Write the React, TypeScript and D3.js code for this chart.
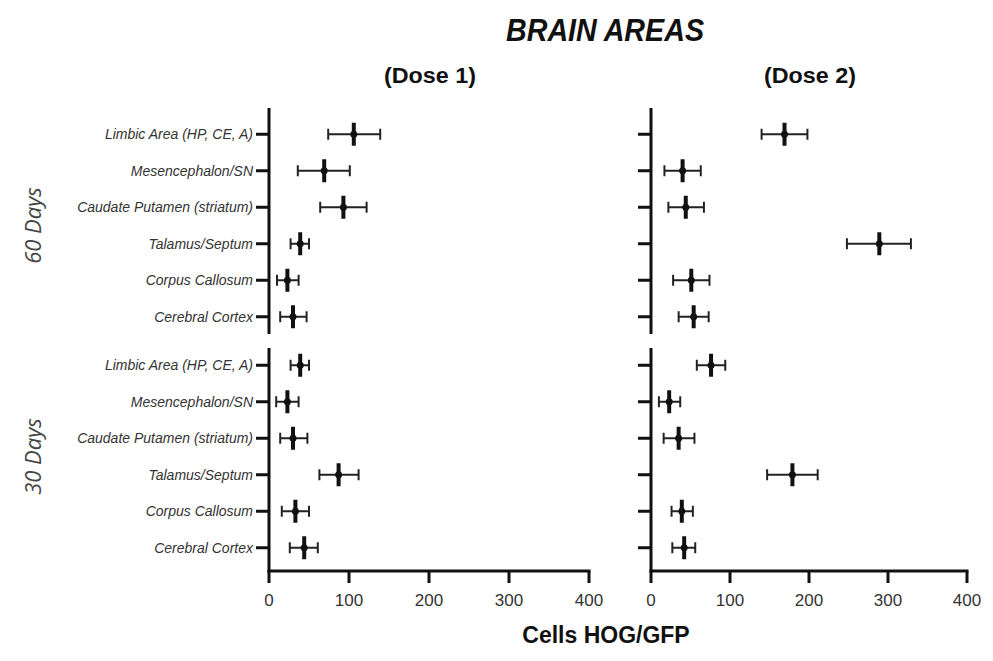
import { scaleLinear, scalePoint } from "d3";

const regions = [
  "Limbic Area (HP, CE, A)",
  "Mesencephalon/SN",
  "Caudate Putamen (striatum)",
  "Talamus/Septum",
  "Corpus Callosum",
  "Cerebral Cortex",
];

const doses = ["(Dose 1)", "(Dose 2)"];
const times = ["60 Days", "30 Days"];
const xTicks = [0, 100, 200, 300, 400];

// mean, lower, upper for each region
const dose1Days60 = [106, 69, 93, 39, 23, 30];
const dose1Days60Lo = [74, 36, 64, 27, 10, 14];
const dose1Days60Hi = [139, 101, 122, 50, 37, 47];

const dose1Days30 = [39, 23, 30, 87, 33, 44];
const dose1Days30Lo = [27, 9, 14, 63, 16, 26];
const dose1Days30Hi = [50, 37, 48, 112, 50, 61];

const dose2Days60 = [169, 40, 44, 289, 51, 54];
const dose2Days60Lo = [140, 17, 22, 248, 28, 35];
const dose2Days60Hi = [198, 63, 67, 329, 74, 73];

const dose2Days30 = [76, 23, 35, 179, 39, 42];
const dose2Days30Lo = [58, 10, 16, 147, 26, 27];
const dose2Days30Hi = [94, 37, 55, 211, 53, 56];

const panels = [
  [
    { mean: dose1Days60, lo: dose1Days60Lo, hi: dose1Days60Hi },
    { mean: dose1Days30, lo: dose1Days30Lo, hi: dose1Days30Hi },
  ],
  [
    { mean: dose2Days60, lo: dose2Days60Lo, hi: dose2Days60Hi },
    { mean: dose2Days30, lo: dose2Days30Lo, hi: dose2Days30Hi },
  ],
];

const W = 993;
const H = 661;
const colX = [
  [269, 589],
  [651, 967],
];
const rowY = [
  { axisTop: 108, axisBottom: 334, bandTop: 116, bandBottom: 335 },
  { axisTop: 348, axisBottom: 571, bandTop: 347, bandBottom: 566 },
];
const ink = "#111";

export default function App() {
  return (
    <svg width={W} height={H} style={{ display: "block", position: "absolute", left: 0, top: 0, background: "#fff" }}>
      <text
        x={605}
        y={41}
        textAnchor="middle"
        fontFamily="'Liberation Sans', Arial, sans-serif"
        fontWeight="bold"
        fontStyle="italic"
        fontSize={31}
        textLength={198}
        lengthAdjust="spacingAndGlyphs"
        fill={ink}
      >
        BRAIN AREAS
      </text>
      {doses.map((d, ci) => (
        <text
          key={d}
          x={(colX[ci][0] + colX[ci][1]) / 2 + 1}
          y={83}
          textAnchor="middle"
          fontFamily="'Liberation Sans', Arial, sans-serif"
          fontWeight="bold"
          fontSize={22}
          textLength={92}
          lengthAdjust="spacingAndGlyphs"
          fill={ink}
        >
          {d}
        </text>
      ))}
      {times.map((t, ri) => {
        const cy = (rowY[ri].bandTop + rowY[ri].bandBottom) / 2;
        return (
          <text
            key={t}
            transform={`translate(41,${cy}) rotate(-90)`}
            textAnchor="middle"
            fontFamily="'Open Sans', sans-serif"
            fontStyle="italic"
            fontSize={22}
            fill="#444"
          >
            {t}
          </text>
        );
      })}
      {colX.map((cx, ci) => {
        const x = scaleLinear().domain([0, 400]).range(cx);
        return (
          <g key={ci}>
            {rowY.map((r, ri) => {
              const y = scalePoint<string>()
                .domain(regions)
                .range([r.bandTop, r.bandBottom])
                .padding(0.5);
              const p = panels[ci][ri];
              return (
                <g key={ri}>
                  <line x1={x(0)} x2={x(0)} y1={r.axisTop} y2={r.axisBottom + (ri === 1 ? 1.5 : 0)} stroke={ink} strokeWidth={3} />
                  {regions.map((reg) => (
                    <g key={reg}>
                      <line x1={x(0) - 13} x2={x(0)} y1={y(reg)} y2={y(reg)} stroke={ink} strokeWidth={3} />
                      {ci === 0 && (
                        <text
                          x={x(0) - 16}
                          y={y(reg)! + 5}
                          textAnchor="end"
                          fontFamily="'Liberation Sans', Arial, sans-serif"
                          fontStyle="italic"
                          fontSize={14}
                          fill="#333"
                        >
                          {reg}
                        </text>
                      )}
                    </g>
                  ))}
                  {regions.map((reg, i) => {
                    const yy = y(reg)!;
                    return (
                      <g key={"e" + reg}>
                        <line x1={x(p.lo[i])} x2={x(p.hi[i])} y1={yy} y2={yy} stroke="#222" strokeWidth={2} />
                        <line x1={x(p.lo[i])} x2={x(p.lo[i])} y1={yy - 5.5} y2={yy + 5.5} stroke="#222" strokeWidth={2} />
                        <line x1={x(p.hi[i])} x2={x(p.hi[i])} y1={yy - 5.5} y2={yy + 5.5} stroke="#222" strokeWidth={2} />
                        <line x1={x(p.mean[i])} x2={x(p.mean[i])} y1={yy - 11.5} y2={yy + 11.5} stroke={ink} strokeWidth={4} />
                        <circle cx={x(p.mean[i])} cy={yy} r={3.5} fill={ink} />
                      </g>
                    );
                  })}
                  {ri === 1 && (
                    <g>
                      <line x1={x(0) - 1.5} x2={x(400) + 1.5} y1={r.axisBottom} y2={r.axisBottom} stroke={ink} strokeWidth={3} />
                      {xTicks.map((t) => (
                        <g key={t}>
                          <line x1={x(t)} x2={x(t)} y1={r.axisBottom} y2={r.axisBottom + 12} stroke={ink} strokeWidth={3} />
                          <text
                            x={x(t)}
                            y={r.axisBottom + 35}
                            textAnchor="middle"
                            fontFamily="'Liberation Sans', Arial, sans-serif"
                            fontSize={17}
                            fill="#333"
                          >
                            {t}
                          </text>
                        </g>
                      ))}
                    </g>
                  )}
                </g>
              );
            })}
          </g>
        );
      })}
      <text
        x={606}
        y={643}
        textAnchor="middle"
        fontFamily="'Liberation Sans', Arial, sans-serif"
        fontWeight="bold"
        fontSize={23}
        fill={ink}
      >
        Cells HOG/GFP
      </text>
    </svg>
  );
}
